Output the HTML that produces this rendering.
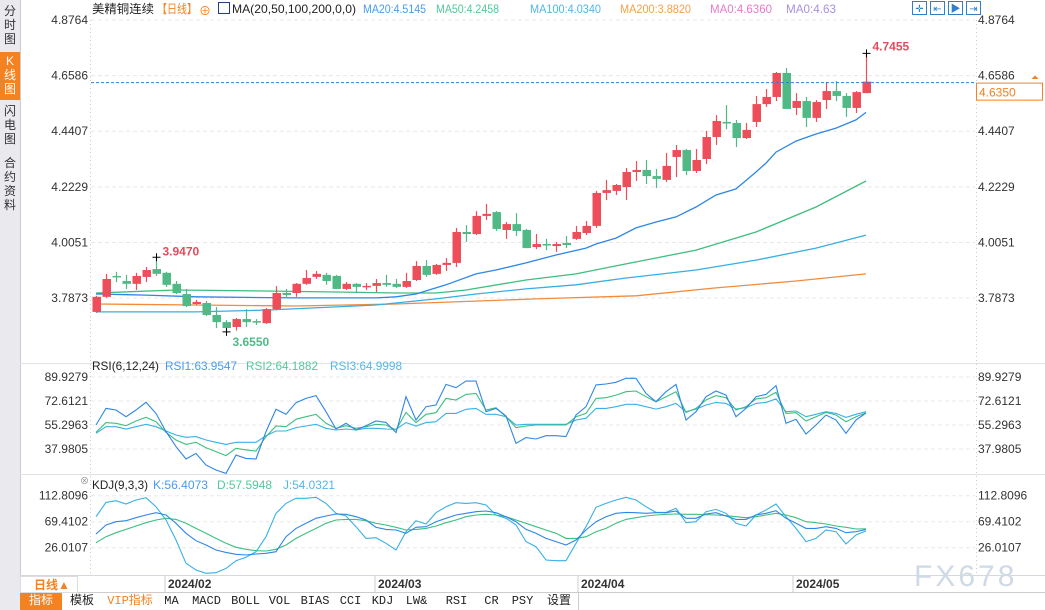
<!DOCTYPE html>
<html><head><meta charset="utf-8">
<style>
body{margin:0;width:1045px;height:610px;overflow:hidden;background:#fff;font-family:"Liberation Sans","Noto Sans CJK SC",sans-serif;}
#wrap{position:relative;width:1045px;height:610px;}
.side{position:absolute;left:0;top:0;width:20px;height:610px;background:#e9e9ee;border-right:1px solid #ccc;}
.tab{position:absolute;left:0;width:20px;font-size:12px;line-height:14px;text-align:center;color:#333;}
.tab.on{background:#f58220;color:#fff;}
.tb{position:absolute;top:593px;height:17px;border-right:1px solid #ccc;font:12px "Liberation Mono","Noto Sans CJK SC",monospace;line-height:17px;text-align:center;color:#222;background:#fff;}
svg text{font-family:"Liberation Sans","Noto Sans CJK SC",sans-serif;}
</style></head><body>
<div id="wrap">
<div class="side">
 <div class="tab" style="top:4px">分<br>时<br>图</div>
 <div class="tab on" style="top:52px;height:46px;padding-top:2px">K<br>线<br>图</div>
 <div class="tab" style="top:104px">闪<br>电<br>图</div>
 <div class="tab" style="top:156px">合<br>约<br>资<br>料</div>
</div>
<svg id="chart" width="1045" height="610" style="position:absolute;left:0;top:0"></svg>
<div class="tb" style="left:20px;width:42px;background:#f58220;color:#fff">指标</div>
<div class="tb" style="left:62px;width:40px">模板</div>
<div class="tb" style="left:102px;width:56px;color:#f58220">VIP指标</div>
<div class="tb" style="left:158px;width:27px">MA</div>
<div class="tb" style="left:185px;width:43px">MACD</div>
<div class="tb" style="left:228px;width:35px">BOLL</div>
<div class="tb" style="left:263px;width:33px">VOL</div>
<div class="tb" style="left:296px;width:38px">BIAS</div>
<div class="tb" style="left:334px;width:33px">CCI</div>
<div class="tb" style="left:367px;width:31px">KDJ</div>
<div class="tb" style="left:398px;width:37px">LW&amp;</div>
<div class="tb" style="left:435px;width:43px">RSI</div>
<div class="tb" style="left:478px;width:27px">CR</div>
<div class="tb" style="left:505px;width:35px">PSY</div>
<div class="tb" style="left:540px;width:38px">设置</div>
</div>
<script>
const opens=[3.733,3.792,3.874,3.854,3.843,3.870,3.901,3.886,3.843,3.803,3.764,3.768,3.721,3.693,3.674,3.705,3.697,3.689,3.744,3.807,3.807,3.843,3.870,3.878,3.874,3.823,3.843,3.831,3.835,3.846,3.843,3.831,3.858,3.913,3.882,3.917,3.925,4.046,4.038,4.109,4.124,4.054,4.077,4.054,3.987,3.999,3.991,4.003,4.019,4.042,4.070,4.199,4.207,4.222,4.281,4.289,4.265,4.250,4.340,4.367,4.285,4.332,4.418,4.477,4.473,4.414,4.477,4.547,4.575,4.669,4.532,4.559,4.493,4.563,4.598,4.579,4.532,4.590];
const closes=[3.792,3.862,3.870,3.843,3.874,3.897,3.882,3.839,3.807,3.756,3.772,3.721,3.693,3.670,3.705,3.693,3.693,3.744,3.807,3.799,3.843,3.866,3.882,3.854,3.823,3.843,3.831,3.835,3.846,3.839,3.831,3.854,3.913,3.878,3.917,3.925,4.046,4.038,4.109,4.117,4.058,4.077,4.050,3.983,3.999,3.995,3.999,3.995,4.046,4.070,4.199,4.210,4.230,4.281,4.289,4.265,4.254,4.305,4.367,4.285,4.328,4.418,4.481,4.473,4.414,4.446,4.547,4.575,4.669,4.528,4.559,4.493,4.555,4.598,4.579,4.532,4.594,4.635];
const highs=[3.796,3.882,3.890,3.878,3.886,3.909,3.947,3.890,3.854,3.823,3.780,3.776,3.752,3.701,3.709,3.744,3.705,3.748,3.834,3.823,3.846,3.897,3.893,3.886,3.878,3.850,3.846,3.846,3.862,3.878,3.862,3.886,3.932,3.936,3.921,3.944,4.062,4.073,4.128,4.156,4.128,4.085,4.120,4.058,4.038,4.019,4.007,4.030,4.070,4.089,4.207,4.250,4.234,4.297,4.324,4.328,4.293,4.356,4.387,4.371,4.371,4.442,4.504,4.543,4.485,4.473,4.579,4.606,4.673,4.688,4.590,4.575,4.563,4.634,4.637,4.590,4.598,4.7455];
const lows=[3.729,3.788,3.850,3.823,3.819,3.850,3.874,3.831,3.803,3.752,3.760,3.717,3.670,3.655,3.660,3.674,3.682,3.686,3.740,3.792,3.792,3.839,3.862,3.839,3.823,3.819,3.811,3.819,3.811,3.831,3.827,3.827,3.854,3.870,3.878,3.893,3.909,4.007,4.034,4.093,4.050,4.019,4.030,3.983,3.979,3.975,3.968,3.983,4.015,4.034,4.062,4.171,4.191,4.171,4.246,4.234,4.218,4.242,4.261,4.269,4.277,4.312,4.387,4.449,4.379,4.410,4.457,4.536,4.559,4.528,4.504,4.457,4.477,4.528,4.559,4.497,4.512,4.590];
const ma20Idx=[0,5,10,15,20,25,28,30,32,35,38,40,43,46,49,50,52,54,56,58,60,62,64,66,67,68,70,72,74,76,77];
const ma20Val=[3.803,3.799,3.792,3.790,3.788,3.788,3.788,3.792,3.803,3.839,3.882,3.897,3.925,3.956,3.983,3.999,4.022,4.062,4.085,4.105,4.144,4.191,4.215,4.281,4.316,4.359,4.402,4.430,4.453,4.485,4.5145];
const ma50Idx=[0,8,17,24,30,34,37,43,48,53,60,66,72,77];
const ma50Val=[3.807,3.819,3.815,3.811,3.807,3.807,3.819,3.858,3.882,3.921,3.975,4.046,4.144,4.2458];
const ma100Idx=[0,10,17,28,34,38,43,48,53,60,66,72,77];
const ma100Val=[3.733,3.733,3.740,3.760,3.784,3.803,3.823,3.839,3.866,3.897,3.936,3.983,4.034];
const ma200Idx=[0,10,20,30,44,54,62,70,77];
const ma200Val=[3.764,3.760,3.756,3.764,3.784,3.796,3.827,3.854,3.882];
const priceTicks=["4.8764","4.6586","4.4407","4.2229","4.0051","3.7873"];
const rsi1=[55.3,67.3,66.1,61.3,66.1,71.7,63.7,50.5,39.7,30.8,34.8,26.4,22.8,20.4,33.6,31.2,30.8,50.5,66.6,63.0,71.4,74.5,76.5,64.9,52.4,56.5,51.7,54.8,58.2,57.2,49.8,75.7,58.9,68.5,69.7,84.6,82.2,87.0,87.0,64.9,67.3,61.8,42.1,46.2,45.2,47.6,47.6,46.9,62.5,68.5,84.2,84.9,86.1,89.0,89.0,78.1,72.1,79.3,84.6,58.9,64.9,75.7,79.8,76.9,61.3,67.3,75.7,77.4,83.7,56.5,59.4,48.8,55.3,62.5,58.9,49.3,58.9,63.95];
const rsi2=[50.0,57.0,56.5,54.8,58.2,60.8,57.7,50.0,44.5,41.3,42.8,38.9,36.1,33.2,38.5,37.3,36.5,46.9,54.6,54.1,59.4,61.3,63.0,56.5,52.9,54.8,52.9,54.1,55.8,55.3,51.7,64.4,57.0,63.0,64.2,74.5,73.3,77.4,78.1,66.1,67.8,61.3,53.4,54.6,55.3,55.3,55.3,55.3,61.3,63.7,74.5,75.0,76.9,79.3,79.8,75.7,72.1,75.7,79.3,64.4,67.3,73.3,76.5,75.0,66.1,68.5,74.1,75.0,78.9,63.7,64.2,58.2,61.3,64.4,62.5,57.7,61.3,64.19];
const rsi3=[49.3,54.1,54.1,52.4,54.1,55.8,54.1,51.0,48.1,46.4,46.9,44.5,42.8,41.3,42.8,42.8,42.8,47.6,51.0,51.0,53.4,54.6,55.8,52.9,51.7,52.4,51.7,52.9,52.9,52.4,52.2,57.0,54.6,57.0,57.7,63.7,63.7,66.6,67.3,63.0,63.0,61.3,55.3,55.8,55.8,55.8,55.8,55.8,58.9,60.1,67.3,67.3,68.5,70.2,70.2,68.5,66.8,68.5,70.9,64.9,66.8,69.7,71.6,70.9,66.8,67.8,70.9,71.6,74.1,64.9,65.4,61.3,63.0,64.9,63.7,60.8,63.0,65.0];
const rsiTicks=["89.9279","72.6121","55.2963","37.9805"];
const kLine=[48.9,63.9,69.4,71.1,76.1,80.6,84.5,80.6,66.7,50.0,37.7,30.5,22.1,18.2,14.9,13.8,15.5,16.6,19.4,44.4,58.3,66.7,75.0,78.9,82.2,81.7,77.8,72.2,60.0,56.6,55.5,50.0,60.0,61.1,69.4,75.0,80.6,83.4,86.1,87.3,84.5,77.8,69.4,56.6,50.0,41.6,36.1,30.5,38.8,55.5,69.4,77.8,83.4,85.0,84.5,83.4,84.5,84.5,87.3,75.0,75.0,82.2,84.5,78.9,73.3,73.3,80.6,83.4,87.8,75.0,66.7,58.3,58.3,61.1,58.3,51.1,52.7,56.4];
const dLine=[34.4,44.4,51.1,56.6,62.2,67.8,72.2,75.0,73.3,66.7,58.3,50.0,41.6,33.3,26.6,23.3,21.0,20.5,23.3,30.5,41.6,50.0,58.3,66.7,72.2,73.3,73.3,71.1,66.7,63.9,60.0,55.5,56.6,58.3,62.2,67.8,72.2,77.8,80.6,81.7,80.6,77.8,72.2,66.7,61.1,55.5,50.0,41.6,41.6,44.4,52.7,58.3,66.7,73.3,76.1,78.9,80.6,81.7,82.2,81.7,81.7,81.1,80.6,79.5,77.8,76.1,77.8,80.6,83.4,80.6,76.1,69.4,67.8,65.5,62.2,60.0,57.2,57.6];
const jLine=[77.8,101.7,104.5,98.9,105.6,109.5,94.5,72.2,38.8,-0.1,-11.3,-16.8,-15.7,-8.5,4.3,9.9,19.4,44.4,83.4,100.0,108.4,108.4,110.1,100.0,83.4,78.9,61.1,41.6,42.7,33.3,22.1,52.7,71.1,65.5,84.5,94.5,101.2,100.0,101.2,97.3,80.6,75.0,63.9,36.1,27.7,5.4,4.3,4.3,33.3,61.1,93.4,100.0,105.6,110.1,105.6,94.5,85.0,85.0,91.7,67.8,69.4,86.1,90.0,83.4,66.7,62.2,80.6,88.9,98.9,77.8,58.3,36.1,41.6,55.5,52.7,32.2,47.2,54.0];
const kdjTicks=["112.8096","69.4102","26.0107"];
const dateLabels=["2024/02","2024/03","2024/04","2024/05"];
const dateIdx=[6.9,27.9,48.2,69.7];

const svg=document.getElementById('chart');
const NS='http://www.w3.org/2000/svg';
function mk(tag,attrs,parent){const e=document.createElementNS(NS,tag);for(const k in attrs)e.setAttribute(k,attrs[k]);(parent||svg).appendChild(e);return e;}
function txt(s,x,y,fill,size,anchor){const t=mk('text',{x:x,y:y,fill:fill,'font-size':size||12,'text-anchor':anchor||'start'});t.textContent=s;return t;}
const xOf=i=>96+10*i;
const yP=p=>20+(4.8764-p)*255.3;
const yR=v=>377+(89.93-v)*1.386;
const yK=v=>495.7+(112.81-v)*0.599;

let l;
l=mk('line',{x1:20,y1:363.5,x2:1045,y2:363.5,stroke:'#dfe3e8'});


l=mk('line',{x1:20,y1:474.5,x2:1045,y2:474.5,stroke:'#dfe3e8'});


l=mk('line',{x1:20,y1:575.5,x2:1045,y2:575.5,stroke:'#d5d9de'});


l=mk('line',{x1:20,y1:592.5,x2:1045,y2:592.5,stroke:'#ccc'});


l=mk('line',{x1:90.5,y1:20,x2:90.5,y2:575,stroke:'#ccc','stroke-dasharray':'1,3'});


l=mk('line',{x1:976.5,y1:20,x2:976.5,y2:575,stroke:'#ccc','stroke-dasharray':'1,3'});



function ticks(arr,yf,name){arr.forEach(s=>{const y=yf(parseFloat(s));
 const g=mk('line',{x1:91,y1:y,x2:975,y2:y,stroke:'#e8e8e8','stroke-dasharray':'4,3'});
 
 
 const a=txt(s,88,y+4,'#333',12,'end');
 
 
 const b=txt(s,978,y+4,'#333',12,'start');
 
 });}
ticks(priceTicks,yP,'price');ticks(rsiTicks,yR,'rsi');ticks(kdjTicks,yK,'kdj');

function sparse(idx,val,color,name){const pts=idx.map((i,k)=>xOf(i)+','+yP(val[k]).toFixed(1)).join(' ');
 const p=mk('polyline',{points:pts,fill:'none',stroke:color,'stroke-width':1.3});
 
 }
sparse(ma200Idx,ma200Val,'#f28c3c','ma200-line');
sparse(ma100Idx,ma100Val,'#38aee2','ma100-line');
sparse(ma50Idx,ma50Val,'#3fbd7f','ma50-line');
sparse(ma20Idx,ma20Val,'#2f86e6','ma20-line');

opens.forEach((o,i)=>{const c=closes[i];const up=c>=o;const col=up?'#ee4d5a':'#4fba86';const x=xOf(i);
 const w=mk('line',{x1:x+0.5,y1:yP(highs[i]),x2:x+0.5,y2:yP(lows[i]),stroke:col,'stroke-width':1.2});
 
 
 const top=yP(Math.max(o,c)),bot=yP(Math.min(o,c));
 const r=mk('rect',{x:x-3.5,y:top,width:8.5,height:Math.max(1.5,bot-top),fill:col});
 
 });

const lastC=closes[closes.length-1];
l=mk('line',{x1:91,y1:yP(lastC)+1,x2:975,y2:yP(lastC)+1,stroke:'#2f7fdf','stroke-dasharray':'3,2','stroke-width':0.9});


const box=mk('rect',{x:976.5,y:yP(lastC)+1.5,width:66,height:17,fill:'#fff',stroke:'#f58220'});


let t=txt(lastC.toFixed(4),979,yP(lastC)+15,'#f58220',12);


t=txt('⏶',1031,yP(lastC)-1,'#f58220',10);



function mark(i,p,label,col,dy,name){const x=xOf(i)+0.5,y=yP(p);
 const a=mk('path',{d:`M${x-4},${y} H${x+4} M${x},${y-4} V${y+4}`,stroke:'#000','stroke-width':1});
 
 
 const b=txt(label,x+6,y+dy,col,12);
 b.setAttribute('font-weight','bold');
 
 }
const hiMax=Math.max(...highs),loMin=Math.min(...lows);
mark(6,highs[6],highs[6].toFixed(4),'#e64c5c',-2,'local-high');
mark(highs.indexOf(hiMax),hiMax,hiMax.toFixed(4),'#e64c5c',-3,'max-high');
mark(lows.indexOf(loMin),loMin,loMin.toFixed(4),'#4fba86',14,'min-low');

function series(arr,yf,color,name){const pts=arr.map((v,i)=>xOf(i)+','+yf(v).toFixed(1)).join(' ');
 const p=mk('polyline',{points:pts,fill:'none',stroke:color,'stroke-width':1.1});
 
 }
series(rsi3,yR,'#38b0e6','rsi3-line');series(rsi2,yR,'#3dbf7e','rsi2-line');series(rsi1,yR,'#2f86e6','rsi1-line');
series(jLine,yK,'#38b0e6','kdj-j-line');series(dLine,yK,'#3dbf7e','kdj-d-line');series(kLine,yK,'#2f86e6','kdj-k-line');
const clip=mk('rect',{x:20,y:576,width:1025,height:16,fill:'#fff'});



function hdr(s,x,y,col,name,len){const e=txt(s,x,y,col,12);if(len){e.setAttribute('textLength',len);e.setAttribute('lengthAdjust','spacingAndGlyphs');}return e;}
hdr('美精铜连续',92,13,'#222','instrument-name',62);
hdr('【日线】',157,13,'#f58220','period-label',40);
t=hdr('⊕',199,15,'#f58220','add-indicator-icon');
const ic=mk('rect',{x:218.5,y:2.5,width:11,height:11,fill:'#fff',stroke:'#223a8a'});


hdr('MA(20,50,100,200,0,0)',232,13,'#222','ma-params',124);
hdr('MA20:4.5145',363,13,'#4a9af0','ma20-value',63);
hdr('MA50:4.2458',436,13,'#52c89a','ma50-value',63);
hdr('MA100:4.0340',530,13,'#52b6ea','ma100-value',71);
hdr('MA200:3.8820',620,13,'#f5a050','ma200-value',71);
hdr('MA0:4.6360',710,13,'#e87ac8','ma0-value-1',62);
hdr('MA0:4.63',786,13,'#a890e0','ma0-value-2',50);
hdr('RSI(6,12,24)',92,370,'#222','rsi-title',67);
hdr('RSI1:63.9547',165,370,'#4a9af0','rsi1-value',72);
hdr('RSI2:64.1882',246,370,'#52c89a','rsi2-value',72);
hdr('RSI3:64.9998',330,370,'#52b6ea','rsi3-value',72);
hdr('KDJ(9,3,3)',92,489,'#222','kdj-title',56);
hdr('K:56.4073',153,489,'#4a9af0','kdj-k-value',55);
hdr('D:57.5948',217,489,'#52c89a','kdj-d-value',55);
hdr('J:54.0321',283,489,'#52b6ea','kdj-j-value',52);
t=hdr('⊗',80,484,'#888','close-indicator-icon');t.setAttribute('font-size','9');

['✛','⇤','▶','⇥'].forEach((s,k)=>{const x=912+k*18;
 const r=mk('rect',{x:x+0.5,y:1.5,width:14,height:13,fill:'#fff',stroke:'#2f7fcf'});
 
 
 const e=txt(s,x+7.5,12,'#2f7fcf',10,'middle');
 
 });

const pb=mk('rect',{x:20.5,y:576.5,width:57,height:16,fill:'#fff',stroke:'#ddd'});


t=txt('日线▲',34,589,'#f58220',12);t.setAttribute('font-weight','bold');


dateLabels.forEach((s,k)=>{const x=xOf(dateIdx[k]);
 const tk=mk('line',{x1:x,y1:576,x2:x,y2:592,stroke:'#ccc'});
 
 
 const e=txt(s,x+3,588,'#333',12);e.setAttribute('font-weight','bold');
 
 });
t=txt('FX678',914,586,'#cfdae6',30);t.setAttribute('letter-spacing','3');


</script>
</body></html>
